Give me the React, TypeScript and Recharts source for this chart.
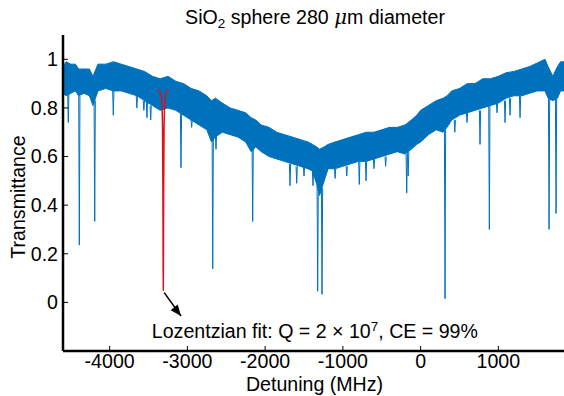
import { ComposedChart, XAxis, YAxis, Area, Line, Scatter } from 'recharts'

const X_TICKS = [-4000, -3000, -2000, -1000, 0, 1000]
const Y_TICKS = [0, 0.2, 0.4, 0.6, 0.8, 1]

// noisy transmission band: lower / upper envelope
const BAND_X = [
  -4600, -4560, -4500, -4440, -4400, -4330, -4260, -4215, -4150, -4050, -3950, -3850, -3750, -3650,
  -3550, -3450, -3350, -3250, -3150, -3050, -2950, -2850, -2750, -2690, -2640, -2550, -2450, -2350,
  -2250, -2180, -2120, -2050, -1950, -1850, -1750, -1650, -1550, -1450, -1390, -1340, -1300, -1240,
  -1190, -1100, -1000, -900, -800, -700, -600, -500, -400, -300, -200, -120, -50, 0, 100, 200, 290,
  340, 400, 500, 600, 700, 800, 900, 1000, 1100, 1200, 1300, 1400, 1500, 1600, 1640, 1700, 1760,
  1800, 1870,
]
const BAND_LO = [
  0.86, 0.85, 0.86, 0.87, 0.85, 0.86, 0.85, 0.81, 0.87, 0.88, 0.87, 0.87, 0.86, 0.85,
  0.83, 0.81, 0.79, 0.8, 0.79, 0.77, 0.75, 0.73, 0.71, 0.66, 0.68, 0.7, 0.69, 0.68,
  0.66, 0.62, 0.64, 0.62, 0.6, 0.59, 0.58, 0.57, 0.56, 0.55, 0.54, 0.49, 0.44, 0.5,
  0.55, 0.55, 0.56, 0.57, 0.58, 0.58, 0.59, 0.6, 0.61, 0.62, 0.61, 0.63, 0.65, 0.66, 0.69, 0.71, 0.7,
  0.72, 0.75, 0.77, 0.78, 0.79, 0.8, 0.81, 0.82, 0.84, 0.85, 0.85, 0.86, 0.87, 0.87, 0.84, 0.83, 0.84,
  0.87, 0.87,
]
const BAND_HI = [
  0.97, 0.99, 0.98, 0.98, 0.96, 0.96, 0.96, 0.93, 0.98, 0.98, 0.99, 0.98, 0.97, 0.96,
  0.95, 0.93, 0.92, 0.93, 0.91, 0.9, 0.88, 0.87, 0.85, 0.83, 0.84, 0.82, 0.8, 0.79,
  0.78, 0.76, 0.75, 0.73, 0.72, 0.7, 0.69, 0.68, 0.67, 0.66, 0.65, 0.64, 0.63, 0.64,
  0.65, 0.66, 0.67, 0.68, 0.69, 0.7, 0.7, 0.71, 0.72, 0.72, 0.73, 0.75, 0.77, 0.79, 0.81, 0.83, 0.84,
  0.85, 0.87, 0.88, 0.9, 0.9, 0.92, 0.92, 0.93, 0.945, 0.95, 0.96, 0.97, 0.985, 1.0, 0.97, 0.93, 0.97,
  0.99, 0.99,
]

// resonance dips: position, level where the dip leaves the band, minimum
const DIP_X = [
  -4532, -4390, -4192, -3953, -3650, -3560, -3520, -3472, -3082, -2945, -2674, -2632, -2160, -1680,
  -1594, -1500, -1384, -1324, -1268, -1100, -950, -789, -702, -600, -450, -179, -160, 314, 440, 597,
  764, 884, 983, 1086, 1150, 1279, 1652, 1742,
]
const DIP_TOP = [
  0.86, 0.85, 0.83, 0.87, 0.85, 0.83, 0.83, 0.81, 0.78, 0.75, 0.68, 0.69, 0.64, 0.57,
  0.56, 0.56, 0.54, 0.48, 0.47, 0.55, 0.56, 0.58, 0.58, 0.59, 0.6, 0.61, 0.62, 0.71, 0.75, 0.78,
  0.79, 0.81, 0.82, 0.83, 0.84, 0.85, 0.84, 0.84,
]
const DIP_MIN = [
  0.74, 0.236, 0.333, 0.77, 0.8, 0.79, 0.76, 0.75, 0.554, 0.72, 0.138, 0.63, 0.333, 0.48,
  0.49, 0.52, 0.48, 0.046, 0.033, 0.51, 0.52, 0.485, 0.5, 0.55, 0.56, 0.45, 0.52, 0.015, 0.7, 0.74,
  0.65, 0.3, 0.78, 0.74, 0.77, 0.76, 0.3, 0.366,
]

// Lorentzian fit of the -3310 MHz resonance
const FIT_CENTER = -3310
const FIT_DX = [-64, -35, -20, -10, -5, -2, 0, 2, 5, 10, 20, 35, 64]
const FIT_Y = [0.875, 0.86, 0.83, 0.72, 0.47, 0.17, 0.05, 0.17, 0.47, 0.72, 0.83, 0.86, 0.875]

const ARROW_X = [-3298, -3082]
const ARROW_Y = [0.04, -0.056]
const NOTE = { x: -1360, y: -0.146 }

const BLUE = '#0072BD'
const RED = '#d7141e'
const FONT = '"Liberation Sans", Arial, Helvetica, sans-serif'
const FS = 19.6

const bandData = BAND_X.map((x, i) => ({ x, range: [BAND_LO[i], BAND_HI[i]] }))
const dipData = DIP_X.flatMap((x, i) => [
  { x: x - 8, y: DIP_TOP[i] },
  { x, y: DIP_MIN[i] },
  { x: x + 8, y: DIP_TOP[i] },
  { x: x + 8, y: null },
])
const fitData = FIT_DX.map((dx, i) => ({ x: FIT_CENTER + dx, y: FIT_Y[i] }))
const arrowData = ARROW_X.map((x, i) => ({ x, y: ARROW_Y[i] }))
const noteData = [NOTE]

const ARROW_ANGLE = 51.6

function ArrowDot(props: any) {
  const { cx, cy, index } = props
  if (index !== 1) return <g key={index} />
  return (
    <polygon
      key={index}
      points="0,0 -11,-4.5 -11,4.5"
      fill="#000"
      transform={`translate(${cx},${cy}) rotate(${ARROW_ANGLE})`}
    />
  )
}

function NoteText(props: any) {
  const { cx, cy } = props
  return (
    <text x={cx} y={cy} textAnchor="middle" fontSize={FS} fontFamily={FONT} fill="#000">
      Lozentzian fit: Q = 2 × 10
      <tspan dy={-7} fontSize={13.5}>7</tspan>
      <tspan dy={7}>, CE = 99%</tspan>
    </text>
  )
}

function YLabel(props: any) {
  const vb = props.viewBox
  const cx = vb.x + 18
  const cy = vb.y + vb.height / 2 + 4
  return (
    <text
      transform={`translate(${cx},${cy}) rotate(-90)`}
      textAnchor="middle"
      dy="0.36em"
      fontSize={FS}
      fontFamily={FONT}
      fill="#000"
    >
      Transmittance
    </text>
  )
}

const axisLine = { stroke: '#000', strokeWidth: 2.5 }
const tickLine = { stroke: '#000', strokeWidth: 1 }
const tickFont = { fill: '#000', fontSize: FS, fontFamily: FONT }

export default function App() {
  return (
    <div
      style={{
        position: 'absolute',
        left: 0,
        top: 0,
        width: 564,
        height: 396,
        overflow: 'hidden',
        background: '#fff',
        fontFamily: FONT,
      }}
    >
      <div
        style={{
          position: 'absolute',
          left: 315,
          top: 7,
          transform: 'translateX(-50%)',
          whiteSpace: 'nowrap',
          fontSize: FS,
          lineHeight: '20px',
          color: '#000',
        }}
      >
        SiO<span style={{ fontSize: 13.5, verticalAlign: '-4px', lineHeight: 0 }}>2</span> sphere 280{' '}
        <i style={{ fontFamily: '"DejaVu Serif", serif' }}>μ</i>m diameter
      </div>
      <ComposedChart width={568} height={396} margin={{ top: 35, right: 2, bottom: 0, left: 0 }}>
        <XAxis
          xAxisId="b"
          type="number"
          dataKey="x"
          domain={[-4600, 1870]}
          ticks={X_TICKS}
          height={45}
          tickSize={-5}
          tickMargin={8}
          axisLine={axisLine}
          tickLine={tickLine}
          tick={tickFont}
          label={{
            value: 'Detuning (MHz)',
            position: 'insideBottom',
            offset: 5,
            fill: '#000',
            fontSize: FS,
          }}
        />
        <XAxis
          xAxisId="t"
          orientation="top"
          type="number"
          dataKey="x"
          domain={[-4600, 1870]}
          ticks={X_TICKS}
          height={0}
          tickSize={-5}
          axisLine={axisLine}
          tickLine={tickLine}
          tickFormatter={() => ''}
        />
        <YAxis
          yAxisId="l"
          type="number"
          domain={[-0.2, 1.1]}
          ticks={Y_TICKS}
          width={63}
          tickSize={-5}
          tickMargin={10}
          axisLine={axisLine}
          tickLine={tickLine}
          tick={tickFont}
          label={{ content: <YLabel /> }}
        />
        <YAxis
          yAxisId="r"
          orientation="right"
          type="number"
          domain={[-0.2, 1.1]}
          ticks={Y_TICKS}
          width={0}
          tickSize={-5}
          axisLine={axisLine}
          tickLine={tickLine}
          tickFormatter={() => ''}
        />
        <Area
          xAxisId="b"
          yAxisId="l"
          data={bandData}
          dataKey="range"
          type="linear"
          stroke={BLUE}
          strokeWidth={1}
          fill={BLUE}
          fillOpacity={1}
          isAnimationActive={false}
        />
        <Line
          xAxisId="b"
          yAxisId="l"
          data={dipData}
          dataKey="y"
          type="linear"
          stroke={BLUE}
          strokeWidth={1}
          dot={false}
          connectNulls={false}
          isAnimationActive={false}
        />
        <Line
          xAxisId="b"
          yAxisId="l"
          data={fitData}
          dataKey="y"
          type="monotone"
          stroke={RED}
          strokeWidth={1.5}
          dot={false}
          isAnimationActive={false}
        />
        <Line
          xAxisId="b"
          yAxisId="l"
          data={arrowData}
          dataKey="y"
          type="linear"
          stroke="#000"
          strokeWidth={1.5}
          dot={<ArrowDot />}
          isAnimationActive={false}
        />
        <Scatter
          xAxisId="b"
          yAxisId="l"
          data={noteData}
          dataKey="y"
          shape={<NoteText />}
          isAnimationActive={false}
        />
      </ComposedChart>
    </div>
  )
}
